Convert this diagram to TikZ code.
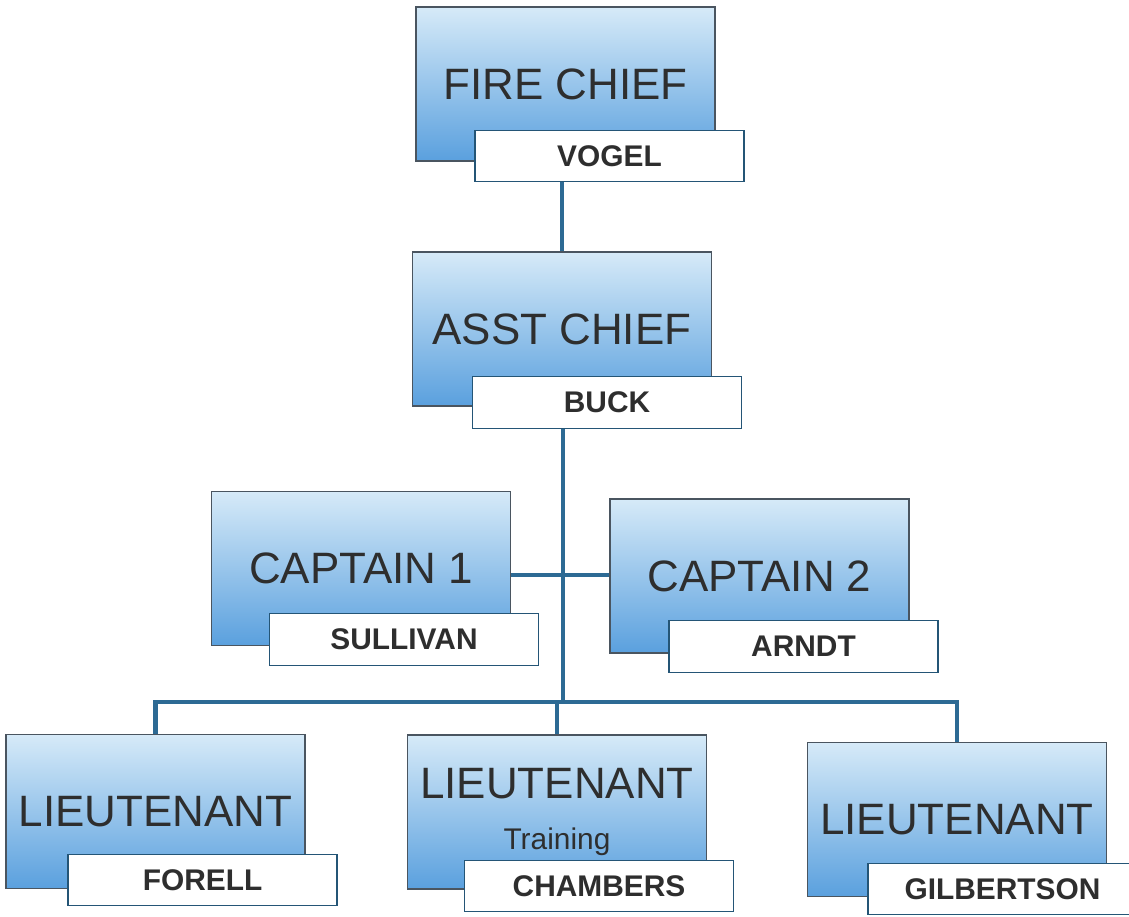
\documentclass[tikz,border=0pt]{standalone}
\usepackage{fontspec}
\setmainfont{Liberation Sans}
\usepackage{xcolor}
\usetikzlibrary{positioning,calc}
\definecolor{orgline}{HTML}{2D6A94}
\definecolor{orgtop}{HTML}{D6EAF8}
\definecolor{orgbottom}{HTML}{5AA0DE}
\definecolor{orgedge}{HTML}{4A5560}
\definecolor{orgtext}{HTML}{2E2E2E}
\tikzset{
 org link/.style={line width=2.8pt,draw=orgline},
 org rank/.style={draw=orgedge,line width=.6pt,top color=orgtop,bottom color=orgbottom,
   minimum width=59.8mm,minimum height=30.8mm,align=center,inner sep=0pt,
   text=orgtext,font=\fontsize{25}{27}\selectfont},
 org name/.style={draw=orgline!80!black,line width=.8pt,fill=white,
   minimum width=53.8mm,minimum height=10.3mm,inner sep=0pt,
   text=orgtext,font=\fontsize{17}{19}\selectfont\bfseries},
}

\begin{document}
\begin{tikzpicture}[x=.2mm,y=-.2mm]
\useasboundingbox (0,0) rectangle (1129,916);
% ranks
\node[org rank] (fire) at (565.5,84) {FIRE CHIEF};
\node[org rank] (asst) at (562,329) {ASST CHIEF};
\node[org rank] (cap1) at (361,568.5) {CAPTAIN 1};
\node[org rank] (cap2) at (759.5,576) {CAPTAIN 2};
\node[org rank] (lt1) at (155.5,811.5) {LIEUTENANT};
\node[org rank] (lt2) at (557,812) {LIEUTENANT\\[2pt]{\fontsize{17}{19}\selectfont Training}};
\node[org rank] (lt3) at (957,819.5) {LIEUTENANT};
% names
\node[org name] (vogel) at (609.5,156) {VOGEL};
\node[org name] (buck) at (607,402.5) {BUCK};
\node[org name] (sullivan) at (404,639.5) {SULLIVAN};
\node[org name] (arndt) at (803.5,646.5) {ARNDT};
\node[org name] (forell) at (202.5,880) {FORELL};
\node[org name] (chambers) at (599,886) {CHAMBERS};
\node[org name] (gilbertson) at (1002.5,889) {GILBERTSON};
% links
\coordinate (bus) at (563,702);
\coordinate (capmid) at (563,575);
\draw[org link] (vogel.south -| asst.north) -- (asst.north);
\draw[org link] (buck.south -| bus) -- (bus);
\draw[org link] (cap1.east |- capmid) -- (cap2.west |- capmid);
\draw[org link] (lt1.north) |- (bus) -| (lt3.north);
\draw[org link] (lt2.north) -- (lt2.north |- bus);
\end{tikzpicture}
\end{document}
